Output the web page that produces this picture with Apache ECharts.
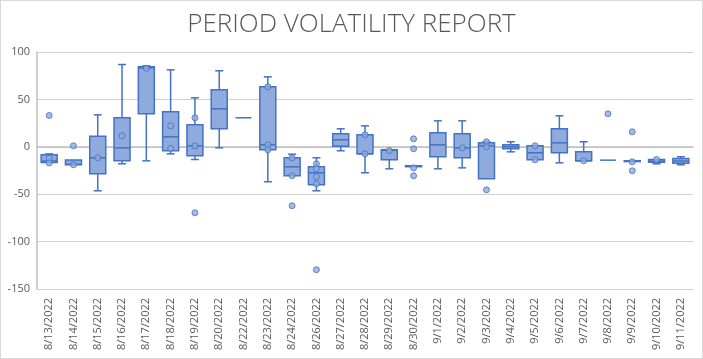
<!DOCTYPE html>
<html>
<head>
<meta charset="utf-8">
<script src="https://cdn.jsdelivr.net/npm/echarts@6/dist/echarts.min.js"></script>
<style>
  html, body { margin: 0; padding: 0; background: #fff; }
  #chart { width: 703px; height: 359px; box-sizing: border-box; border: 1px solid #D9D9D9; }
</style>
</head>
<body>
<div id="chart"></div>
<script>
var titleText = 'PERIOD VOLATILITY REPORT';
var categories = ['8/13/2022','8/14/2022','8/15/2022','8/16/2022','8/17/2022','8/18/2022','8/19/2022','8/20/2022','8/22/2022','8/23/2022','8/24/2022','8/26/2022','8/27/2022','8/28/2022','8/29/2022','8/30/2022','9/1/2022','9/2/2022','9/3/2022','9/4/2022','9/5/2022','9/6/2022','9/7/2022','9/8/2022','9/9/2022','9/10/2022','9/11/2022'];
var mins    = [-17, -19, -46.4, -17.9, -14.8, -7.4, -13.4, -1.1, 30.6, -36.9, -30.6, -46.4, -4.2, -27.4, -23.2, -21, -23.2, -22.2, -33.8, -5.3, -13.7, -16.9, -14.8, -14.1, -15.6, -17.9, -19];
var q1s     = [-16.5, -19, -28.5, -14.8, 34.8, -4.2, -9.5, 19, 30.6, -3.2, -30.6, -40.1, 0.7, -7.4, -13.7, -21, -10.5, -11.6, -33.8, -2.1, -13.7, -6.3, -14.8, -14.1, -15.6, -16.2, -17.3];
var medians = [-15, -18.5, -11.6, -1.1, 83.3, 10.5, 1, 40.1, 30.6, 2.1, -21.1, -27.4, 7.4, -7.4, -3.6, -20.4, 2.1, -1.1, 1, 0, -6.3, 4.2, -14.8, -14.1, -15.2, -15.2, -15];
var q3s     = [-8.5, -14, 11.2, 30.6, 84.4, 36.9, 23.2, 60.1, 30.6, 63.3, -11.6, -21.1, 13.7, 12.7, -3.2, -20, 14.8, 13.7, 4.2, 2.1, 1.1, 19, -5.3, -14.1, -14.7, -13.4, -12.3];
var maxs    = [-7.5, -14, 33.7, 86.8, 85.4, 81.2, 51.7, 80.2, 30.6, 73.8, -7.8, -11.6, 19, 22.1, -3.2, -20, 27.4, 27.4, 5.3, 5.3, 1.1, 32.7, 5.3, -14.1, -14.7, -13.4, -10.5];
var points  = [
  [33, -12, -17], [1, -19], [-11.6], [11.6], [82.9], [22.1, -1.8], [30.6, 1, -69.6], [], [],
  [63.3, 2.1, -3.2], [-11.6, -30.6, -62.2], [-17.9, -23.2, -31.6, -39, -129.7], [], [12.7, -7.4], [-4],
  [8.4, -2.1, -22.2, -30.6], [], [-1.1], [5.3, 0, -45.4], [], [1.1, -13.7], [], [-14.8], [34.8],
  [15.8, -15.8, -25.3], [-13.4], []
];
var yTicks = { min: -150, max: 100, interval: 50 };

var boxData = categories.map(function (c, i) {
  return [i, mins[i], q1s[i], medians[i], q3s[i], maxs[i]];
});
var scatterData = [];
points.forEach(function (arr, i) {
  arr.forEach(function (v) { scatterData.push([i, v]); });
});

var BORDER = '#4472C4', FILL = '#8FAADC';

function renderBox(params, api) {
  var i = api.value(0);
  var pMin = api.coord([i, api.value(1)]);
  var pQ1 = api.coord([i, api.value(2)]);
  var pMed = api.coord([i, api.value(3)]);
  var pQ3 = api.coord([i, api.value(4)]);
  var pMax = api.coord([i, api.value(5)]);
  var x = pMin[0];
  var hw = 8, cw = 4;
  var lineStyle = { stroke: BORDER, lineWidth: 1.5, fill: null };
  var children = [];
  if (pMax[1] < pQ3[1] - 0.5) {
    children.push({ type: 'line', shape: { x1: x, y1: pQ3[1], x2: x, y2: pMax[1] }, style: lineStyle });
    children.push({ type: 'line', shape: { x1: x - cw, y1: pMax[1], x2: x + cw, y2: pMax[1] }, style: lineStyle });
  }
  if (pMin[1] > pQ1[1] + 0.5) {
    children.push({ type: 'line', shape: { x1: x, y1: pQ1[1], x2: x, y2: pMin[1] }, style: lineStyle });
    children.push({ type: 'line', shape: { x1: x - cw, y1: pMin[1], x2: x + cw, y2: pMin[1] }, style: lineStyle });
  }
  var h = pQ1[1] - pQ3[1];
  if (h > 0.5) {
    children.push({
      type: 'rect',
      shape: { x: x - hw, y: pQ3[1], width: hw * 2, height: h },
      style: { fill: FILL, stroke: BORDER, lineWidth: 1.5 }
    });
  }
  children.push({ type: 'line', shape: { x1: x - hw, y1: pMed[1], x2: x + hw, y2: pMed[1] }, style: lineStyle });
  return { type: 'group', children: children };
}

var chart = echarts.init(document.getElementById('chart'), null, { renderer: 'canvas' });
chart.setOption({
  animation: false,
  backgroundColor: '#fff',
  title: {
    text: titleText,
    left: 'center',
    top: 6,
    textStyle: { fontFamily: 'Open Sans', fontSize: 26, fontWeight: 300, color: '#595959' }
  },
  grid: { left: 36, right: 9, top: 51, bottom: 69, containLabel: false },
  xAxis: {
    type: 'category',
    data: categories,
    axisLine: { lineStyle: { color: '#BFBFBF', width: 1.5 } },
    axisTick: { show: false },
    axisLabel: { rotate: 90, fontFamily: 'Open Sans', fontSize: 11, color: '#595959', interval: 0, margin: 9 }
  },
  yAxis: {
    type: 'value',
    min: yTicks.min, max: yTicks.max, interval: yTicks.interval,
    axisLine: { show: true, lineStyle: { color: '#BFBFBF', width: 1.5 } },
    axisTick: { show: false },
    splitLine: { lineStyle: { color: '#D0D0D0', width: 1 } },
    axisLabel: { fontFamily: 'Open Sans', fontSize: 11, color: '#595959', margin: 7 }
  },
  series: [
    {
      type: 'custom',
      renderItem: renderBox,
      data: boxData,
      encode: { x: 0, y: [1, 2, 3, 4, 5] },
      z: 2
    },
    {
      type: 'scatter',
      data: scatterData,
      symbol: 'circle',
      symbolSize: 6,
      itemStyle: { color: FILL, borderColor: BORDER, borderWidth: 1 },
      z: 3
    }
  ]
});
</script>
</body>
</html>
